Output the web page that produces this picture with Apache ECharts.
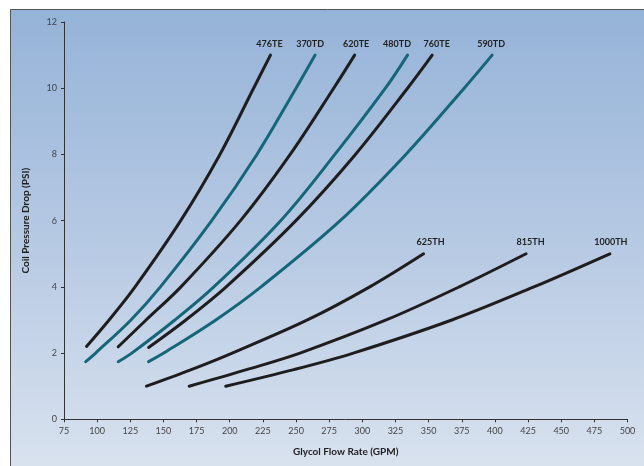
<!DOCTYPE html>
<html>
<head>
<meta charset="utf-8">
<script src="https://cdn.jsdelivr.net/npm/echarts@6/dist/echarts.min.js"></script>
<style>html,body{margin:0;padding:0;background:#fff;}#c{width:644px;height:466px;}</style>
</head>
<body>
<div id="c"></div>
<script>
var seriesNames = ['476TE','370TD','620TE','480TD','760TE','590TD','625TH','815TH','1000TH'];
var s476TE = [[92,2.2],[109,3],[128.6,4],[163,6],[192.6,8],[218,10],[230.7,11]];
var s370TD = [[91.4,1.74],[98.8,2],[125.5,3],[147.7,4],[186.4,6],[220.5,8],[250,10],[264.4,11]];
var s620TE = [[115.9,2.19],[136.9,3],[163.2,4],[208.1,6],[245.6,8],[278.4,10],[294.2,11]];
var s480TD = [[115.9,1.74],[126.1,2],[158.6,3],[188,4],[238.4,6],[279.3,8],[317.4,10],[334.1,11]];
var s760TE = [[138.8,2.17],[166.9,3],[197.3,4],[249.9,6],[294.8,8],[334.1,10],[352.7,11]];
var s590TD = [[138.8,1.74],[150.2,2],[189.5,3],[223.6,4],[283.3,6],[332.8,8],[376.8,10],[397.9,11]];
var s625TH = [[137.2,1],[171,1.5],[201.9,2],[258.6,3],[305.6,4],[346.2,5]];
var s815TH = [[169.4,1],[212.7,1.5],[253,2],[318,3],[373.1,4],[423.5,5]];
var s1000TH = [[197,1],[248.3,1.5],[293.2,2],[367.5,3],[429.4,4],[486.7,5]];
var seriesData = [s476TE,s370TD,s620TE,s480TD,s760TE,s590TD,s625TH,s815TH,s1000TH];
var seriesKind = ['dark','teal','dark','teal','dark','teal','dark','dark','dark'];
var xAxisTitle = 'Glycol Flow Rate (GPM)';
var yAxisTitle = 'Coil Pressure Drop (PSI)';

// label horizontal nudges (style only)
var labelNudge = [-1, -5, 1.5, -10.5, 4.5, -1, 7, 4.5, 1];

var colors = {dark:'#1f1d1e', teal:'#16667a'};
var font = 'Lato, "Open Sans", sans-serif';

var chart = echarts.init(document.getElementById('c'));
var series = seriesNames.map(function(name, i){
  var d = seriesData[i];
  return {
    name: name,
    type: 'line',
    data: d,
    smooth: 0.35,
    showSymbol: false,
    symbol: 'none',
    lineStyle: {width: 3, color: colors[seriesKind[i]], cap: 'round'},
    emphasis: {disabled: true},
    markPoint: {
      symbol: 'circle', symbolSize: 0, silent: true,
      data: [{coord: d[d.length-1], value: name}],
      label: {show: true, position: 'top', distance: 7, offset: [labelNudge[i], 0],
        color: '#222', fontWeight: 'bold', fontSize: 9, fontFamily: font, formatter: name},
      animation: false
    },
    animation: false
  };
});

chart.setOption({
  animation: false,
  backgroundColor: '#ffffff',
  graphic: [{
    type: 'rect', z: -10, silent: true,
    shape: {x: 10.5, y: 9.5, width: 700, height: 500},
    style: {
      fill: new echarts.graphic.LinearGradient(0, 0, 0, 1, [
        {offset: 0, color: '#95b3d8'},
        {offset: 0.5, color: '#b9cbe4'},
        {offset: 1, color: '#dfe7f1'}
      ]),
      stroke: '#555555', lineWidth: 1
    }
  }],
  grid: {left: 64, right: 16.5, top: 22, bottom: 46.7, containLabel: false},
  xAxis: {
    type: 'value', min: 75, max: 500, interval: 25,
    name: xAxisTitle, nameLocation: 'middle', nameGap: 27,
    nameTextStyle: {fontWeight: 'bold', fontSize: 10, color: '#222', fontFamily: font},
    axisLine: {show: true, lineStyle: {color: '#333', width: 1}},
    axisTick: {show: true, length: 3, lineStyle: {color: '#333'}},
    axisLabel: {fontSize: 9, color: '#444', fontFamily: font, margin: 7},
    splitLine: {show: false}
  },
  yAxis: {
    type: 'value', min: 0, max: 12, interval: 2,
    name: yAxisTitle, nameLocation: 'middle', nameGap: 33,
    nameTextStyle: {fontWeight: 'bold', fontSize: 10, color: '#222', fontFamily: font},
    axisLine: {show: true, lineStyle: {color: '#333', width: 1}},
    axisTick: {show: true, length: 3, lineStyle: {color: '#333'}},
    axisLabel: {fontSize: 9, color: '#444', fontFamily: font, margin: 7},
    splitLine: {show: false}
  },
  series: series
});
</script>
</body>
</html>
